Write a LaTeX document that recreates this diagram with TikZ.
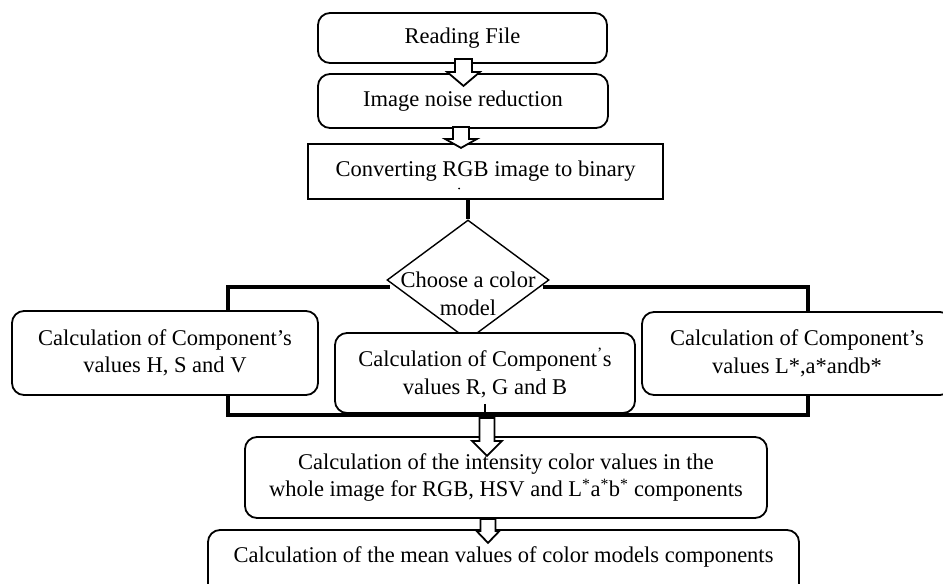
\documentclass[tikz,border=0pt]{standalone}
\usepackage{fontspec}
\setmainfont{Liberation Serif}
\usetikzlibrary{shapes.geometric,calc}
\tikzset{
  txt/.style={font=\fontsize{22.5}{27.5}\selectfont, align=center},
  rbox/.style={txt, draw, line width=1.8pt, rounded corners=12pt, fill=white, inner sep=0pt},
  sbox/.style={txt, draw, line width=1.8pt, fill=white, inner sep=0pt},
  frameline/.style={line width=4.5pt, line cap=rect},
  conn/.style={line width=1.5pt},
  barrow/.style={draw, fill=white, line width=1.8pt, line join=miter},
  speck/.style={circle, fill=black, inner sep=0pt, minimum size=2pt},
}
\newcommand{\blockarr}[5]{% start, shaft length, head length, shaft half width, head half width
  \draw[barrow] #1 ++(-#4,0) -- ++(0,#2) -- ++({-(#5-#4)},0) -- ++(#5,#3) -- ++(#5,-#3) -- ++({-(#5-#4)},0) -- ++(0,-#2) -- cycle;}
\begin{document}
\begin{tikzpicture}[x=1pt,y=-1pt]
\useasboundingbox (0,0) rectangle (943,584);
\clip (0,0) rectangle (943,584);
% top chain
\node[rbox, minimum width=289, minimum height=50] (b1) at (462.5,38) {Reading File};
\node[rbox, minimum width=290, minimum height=54] (b2) at (463,101) {Image noise reduction};
\node[sbox, minimum width=355, minimum height=55] (b3) at (485.5,171.5) {Converting RGB image to binary};
\node[speck] (dot) at (459,188.5) {};
% frame of the three branches
\coordinate (fl) at (228,287);
\coordinate (fr) at (808,287);
\coordinate (bl) at (228,415);
\coordinate (br) at (808,415);
\draw[frameline] (fl) -- (bl) -- (br) -- (fr);
\draw[frameline] (fl) -- (388,287);
\draw[frameline] (fr) -- (545,287);
% decision
\node[diamond, draw, fill=white, line width=1.4pt, inner sep=0pt, minimum width=162, minimum height=120] (dia) at (468,280) {};
\node[txt, inner sep=0pt] (diatext) at (468,294) {Choose a color\\[0.5pt]model};
\draw[line width=3.5pt] (dia.north |- b3.south) -- (dia.north);
% branches
\node[rbox, minimum width=306, minimum height=84] (lbox) at (165,353) {Calculation of Component’s\\values H, S and V};
\node[rbox, minimum width=300, minimum height=80] (cbox) at (485,373) {Calculation of Component\textsuperscript{’}s\\values R, G and B};
\node[rbox, minimum width=310, minimum height=83] (rbox) at (797,353.5) {Calculation of Component’s\\values L*,a*andb*};
\draw[conn] ($(cbox.south)+(0,-10)$) -- ($(cbox.south)+(0,4)$);
% bottom chain
\node[rbox, minimum width=522, minimum height=81] (b4) at (506,477.5) {Calculation of the intensity color values in the\\whole image for RGB, HSV and L\textsuperscript{*}a\textsuperscript{*}b\textsuperscript{*} components};
\node[rbox, minimum width=591, text height=32pt, text depth=38pt] (b5) at (503.5,565) {Calculation of the mean values of color models components};
% block arrows
\blockarr{($(b1.south)+(1,-5)$)}{13}{14}{8.5}{16.5}
\blockarr{($(b2.south)+(-2,-2)$)}{12}{9}{8}{16}
\blockarr{($(cbox.south)+(2,4)$)}{23}{15}{7.5}{15}
\blockarr{($(b4.south -| cbox.south)+(3,0)$)}{12}{12}{7.5}{11.5}
\end{tikzpicture}
\end{document}
